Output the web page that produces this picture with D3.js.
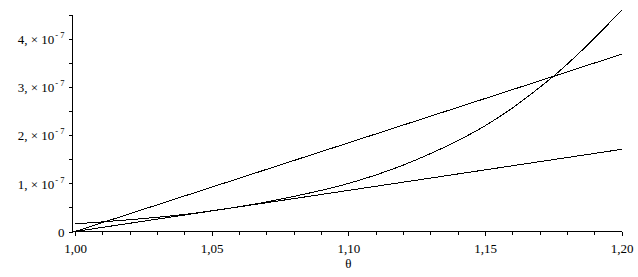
<!DOCTYPE html>
<html><head><meta charset="utf-8">
<script src="https://cdn.jsdelivr.net/npm/d3@7"></script>
<style>
html,body{margin:0;padding:0;background:#fff;}
svg{display:block;}
</style></head><body>
<svg id="chart" width="638" height="277"></svg>
<script>
// ---- data ----
const xMajorTicks = [1.00, 1.05, 1.10, 1.15, 1.20];
const xMinorTicks = [1.01,1.02,1.03,1.04,1.06,1.07,1.08,1.09,1.11,1.12,1.13,1.14,1.16,1.17,1.18,1.19];
const yMajorTicks = [0, 1e-7, 2e-7, 3e-7, 4e-7];
const yMajorLabels = ["0", "1,", "2,", "3,", "4,"];
const yMinorTicks = [0.5e-7, 1.5e-7, 2.5e-7, 3.5e-7, 4.5e-7];
const xTitle = "θ";

// straight line A (steep)
const lineATheta = [1.00, 1.20];
const lineAValue = [0, 3.69e-7];
// straight line B (shallow)
const lineBTheta = [1.00, 1.20];
const lineBValue = [0, 1.71e-7];
// curve C
const curveTheta = [1.00, 1.01, 1.02, 1.03, 1.04, 1.05, 1.06, 1.07, 1.08, 1.09, 1.10, 1.11, 1.12, 1.13, 1.14, 1.15, 1.16, 1.17, 1.175, 1.18, 1.19, 1.20];
const curveValue = [0.16e-7, 0.20e-7, 0.245e-7, 0.295e-7, 0.355e-7, 0.43e-7, 0.515e-7, 0.615e-7, 0.73e-7, 0.855e-7, 1.00e-7, 1.175e-7, 1.38e-7, 1.62e-7, 1.89e-7, 2.20e-7, 2.57e-7, 3.00e-7, 3.23e-7, 3.48e-7, 4.02e-7, 4.61e-7];

// ---- drawing ----
const FONT = "'Liberation Serif', 'Times New Roman', Times, serif";
const svg = d3.select("#chart");
const x = d3.scaleLinear().domain([1.00, 1.20]).range([75, 621.7]);
const y = d3.scaleLinear().domain([0, 4e-7]).range([231.5, 39.3]);
const axisX = 72.5;   // pixel column of the vertical axis
const axisY = 231.5;  // pixel row of the horizontal axis

const loc = d3.formatLocale({decimal: ",", thousands: ".", grouping: [3], currency: ["", ""]});
const fmt = loc.format(".2f");

// horizontal axis
const gx = svg.append("g").attr("transform", `translate(0,${axisY})`);
gx.append("g").call(d3.axisBottom(x).tickValues(xMinorTicks).tickSize(3).tickSizeOuter(0).tickFormat(() => ""))
  .call(g => g.select(".domain").remove());
gx.append("g").call(d3.axisBottom(x).tickValues(xMajorTicks).tickSize(4).tickSizeOuter(0).tickPadding(8).tickFormat(fmt))
  .call(g => g.select(".domain").remove())
  .call(g => g.selectAll("text").style("font-size", "13px").style("font-family", FONT).attr("fill", "#000"));
gx.append("line").attr("x1", axisX - 0.5).attr("x2", x(1.20) + 0.5).attr("y1", 0).attr("y2", 0)
  .attr("stroke", "#000").attr("shape-rendering", "crispEdges");

// vertical axis
const gy = svg.append("g").attr("transform", `translate(${axisX},0)`);
gy.append("g").call(d3.axisLeft(y).tickValues(yMinorTicks).tickSize(4).tickSizeOuter(0).tickFormat(() => ""))
  .call(g => g.select(".domain").remove());
const gyMaj = gy.append("g").call(d3.axisLeft(y).tickValues(yMajorTicks).tickSize(4).tickSizeOuter(0).tickFormat(() => ""))
  .call(g => g.select(".domain").remove());
gyMaj.selectAll(".tick").each(function(d, i) {
  const t = d3.select(this).select("text")
    .attr("x", -8).attr("dy", "0.35em").attr("text-anchor", "end").attr("fill", "#000")
    .style("font-family", FONT).style("font-size", "13px");
  t.text(null);
  if (i === 0) {
    t.text(yMajorLabels[i]);
  } else {
    t.append("tspan").text(yMajorLabels[i] + " \u00d7 10");
    t.append("tspan").attr("dy", -6).attr("dx", 1).style("font-size", "8.5px").text("- 7");
  }
});
gy.append("line").attr("x1", 0).attr("x2", 0).attr("y1", axisY + 0.5).attr("y2", y(4.5e-7))
  .attr("stroke", "#000").attr("shape-rendering", "crispEdges");
svg.selectAll(".tick line").attr("shape-rendering", "crispEdges");

// x title
svg.append("text").attr("x", x(1.10)).attr("y", 267.5).attr("text-anchor", "middle")
  .style("font-family", FONT).style("font-size", "13px").attr("fill", "#000").text(xTitle);

// series
const lineGen = d3.line().x(d => x(d[0])).y(d => y(d[1]));
const curveGen = d3.line().x(d => x(d[0])).y(d => y(d[1])).curve(d3.curveMonotoneX);
const series = [
  {pts: d3.zip(lineATheta, lineAValue), gen: lineGen},
  {pts: d3.zip(lineBTheta, lineBValue), gen: lineGen},
  {pts: d3.zip(curveTheta, curveValue), gen: curveGen}
];
svg.append("g").selectAll("path").data(series).join("path")
  .attr("d", s => s.gen(s.pts))
  .attr("fill", "none").attr("stroke", "#000").attr("stroke-width", 1)
  .attr("shape-rendering", "crispEdges");
</script>
</body></html>
